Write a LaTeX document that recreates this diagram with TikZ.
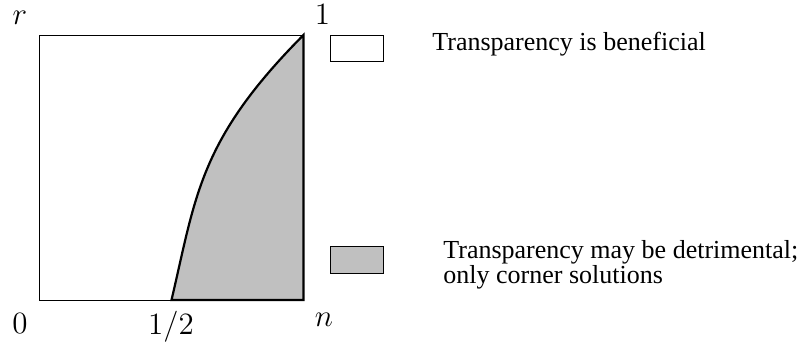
\RequirePackage{fix-cm}
\documentclass[tikz,border=0pt]{standalone}
\usepackage[no-math]{fontspec}
\newfontfamily\legfont{Liberation Serif}
\definecolor{shade}{RGB}{192,192,192}
\tikzset{
  frame/.style={line width=0.5pt, draw=black},
  region/.style={fill=shade, draw=black, line width=1.1pt, line join=miter},
  legbox/.style={draw=black, line width=0.5pt, minimum width=26.5pt, minimum height=13.3pt, inner sep=0pt},
  legtext/.style={anchor=base west, inner sep=0pt, font=\legfont\fontsize{13}{13}\selectfont},
  axlab/.style={anchor=base, inner sep=0pt, font=\fontsize{15.5}{18}\selectfont}
}
\begin{document}
\begin{tikzpicture}[x=0.5pt,y=-0.5pt]
\useasboundingbox (0,0) rectangle (807,345);
\coordinate (O) at (39.5,300);
\coordinate (A) at (303.5,300);
\coordinate (B) at (303.5,35);
\coordinate (C) at (39.5,35);
\coordinate (H) at (171.5,300);
\draw[frame] (O) rectangle (B);
\path[region] (H) .. controls (196,196) and (199,140) .. (B) -- (A) -- cycle;
\node[axlab] (rl) at (20,24.5) {$r$};
\node[axlab] (onel) at (322.5,24) {$1$};
\node[axlab] (zerol) at (20,333) {$0$};
\node[axlab] (halfl) at (171,334) {$1/2$};
\node[axlab] (nl) at (324,326) {$n$};
\node[legbox, fill=white] (k1) at (356.5,48.3) {};
\node[legbox, fill=shade] (k2) at (356.5,260) {};
\node[legtext] (t1) at (432,50.7) {Transparency is beneficial};
\node[legtext] (t2) at (443,258) {Transparency may be detrimental;};
\node[legtext] (t3) at (443,283.3) {only corner solutions};
\end{tikzpicture}
\end{document}
